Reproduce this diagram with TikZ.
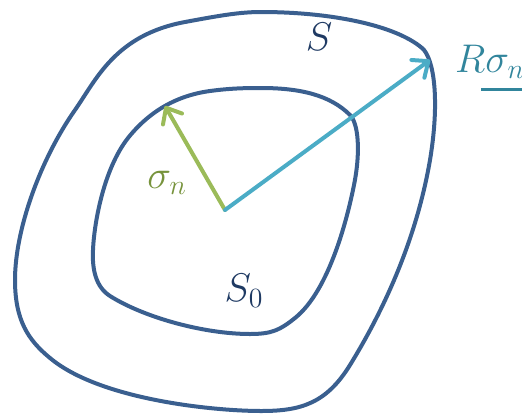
\documentclass[tikz,border=0pt]{standalone}
\usetikzlibrary{arrows.meta}
\definecolor{curveblue}{HTML}{3A5F8F}
\definecolor{arrgreen}{HTML}{9BBB59}
\definecolor{arrcyan}{HTML}{4BACC6}
\definecolor{lblnavy}{HTML}{1F3A63}
\definecolor{lblgreen}{HTML}{77933C}
\definecolor{lblteal}{HTML}{31859C}
\newcommand{\biglbl}[1]{\scalebox{1.93}{\fontsize{20.74}{25}\selectfont$#1$}}
\tikzset{
  surface/.style={draw=curveblue, line width=4pt},
  vec/.style={line width=4pt, line cap=round,
    -{Straight Barb[length=13pt,width=22pt,round]}},
  lbl/.style={inner sep=0pt, anchor=base}
}
\begin{document}
\begin{tikzpicture}[x=1pt,y=-1pt]
\useasboundingbox (0,0) rectangle (522,416);
% outer surface S
\draw[surface] (261,12)
  .. controls (330,12) and (395,25) .. (422,48)
  .. controls (434,58) and (440,100) .. (430,160)
  .. controls (418,230) and (390,300) .. (350,365)
  .. controls (326,404) and (300,411) .. (261,411)
  .. controls (215,411) and (100,400) .. (50,358)
  .. controls (28,340) and (15,320) .. (15,280)
  .. controls (15,230) and (40,160) .. (75,110)
  .. controls (96,80) and (115,35) .. (185,22)
  .. controls (220,15.5) and (240,12) .. (261,12) -- cycle;
% inner surface S0
\draw[surface] (261,88)
  .. controls (300,88) and (330,95) .. (350,115)
  .. controls (358,123) and (361,150) .. (354,185)
  .. controls (348,215) and (330,290) .. (295,318)
  .. controls (280,330) and (272,334) .. (250,334)
  .. controls (205,334) and (145,318) .. (110,296)
  .. controls (96,287) and (92,270) .. (93,250)
  .. controls (94,225) and (103,170) .. (128,138)
  .. controls (140,123) and (165,97) .. (210,91)
  .. controls (230,88.3) and (245,88) .. (261,88) -- cycle;
\coordinate (o) at (225,210);
\coordinate (tipin) at (165,106);
\coordinate (tipout) at (430,60);
\draw[vec, arrgreen] (o) -- (tipin);
\draw[vec, arrcyan] (o) -- (tipout);
% labels
\node[lbl, text=lblnavy] (lS) at (319,50) {\biglbl{S}};
\node[lbl, text=lblnavy] (lS0) at (244,301) {\biglbl{S_0}};
\node[lbl, text=lblgreen] (lsig) at (167,188) {\biglbl{\sigma_n}};
\node[lbl, text=lblteal, anchor=base west] (lR) at (455,72) {\biglbl{R\sigma_n}};
\coordinate (ul1) at (481,89);
\coordinate (ul2) at (522,89);
\draw[lblteal, line width=3pt] (ul1) -- (ul2);
\end{tikzpicture}
\end{document}
